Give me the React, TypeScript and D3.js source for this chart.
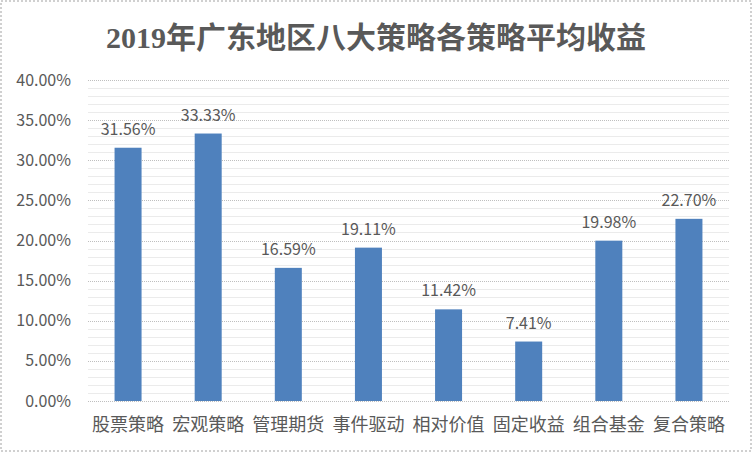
import React from "react";
import * as d3 from "d3";

const title = "2019年广东地区八大策略各策略平均收益";
const categories = ["股票策略", "宏观策略", "管理期货", "事件驱动", "相对价值", "固定收益", "组合基金", "复合策略"];
const values = [0.3156, 0.3333, 0.1659, 0.1911, 0.1142, 0.0741, 0.1998, 0.227];
const yTicks = [0, 0.05, 0.1, 0.15, 0.2, 0.25, 0.3, 0.35, 0.4];

const W = 752;
const H = 452;
const left = 88;
const right = 729;
const top = 80;
const bottom = 401;

export default function App() {
  const x = d3.scaleBand<string>().domain(categories).range([left, right]).paddingInner(0.663).paddingOuter(0.3315);
  const y = d3.scaleLinear().domain([0, 0.4]).range([bottom, top]);
  const minor = d3.range(0, 41).map((d) => d / 100).filter((d) => Math.round(d * 100) % 5 !== 0);
  const fmt = (v: number) => d3.format(".2%")(v);
  const sans = "'Noto Sans CJK SC', 'Open Sans', sans-serif";
  const textColor = "#595959";
  return (
    <svg width={W} height={H} style={{ position: "absolute", left: 0, top: 0 }}>
      <rect x={0} y={0} width={W} height={H} fill="#fff" />
      <rect x={1} y={1} width={W - 2} height={H - 2} fill="none" stroke="#d0d0d0" strokeWidth={2} strokeDasharray="2,2" />
      <text x={376} y={48} textAnchor="middle" fontFamily="'Liberation Serif', 'Noto Sans CJK SC', serif" fontWeight="bold" fontSize={30} fill={textColor}>
        {title}
      </text>
      {minor.map((t) => (
        <line key={"m" + t} x1={left} x2={right} y1={Math.round(y(t)) + 0.5} y2={Math.round(y(t)) + 0.5} stroke="#ebebeb" strokeWidth={1} />
      ))}
      {yTicks.map((t) => (
        <line key={"g" + t} x1={left} x2={right} y1={Math.round(y(t)) + 0.5} y2={Math.round(y(t)) + 0.5} stroke="#bfbfbf" strokeWidth={1} strokeDasharray="1,1" />
      ))}
      {yTicks.map((t) => (
        <text key={"t" + t} x={71} y={y(t) + 5.5} textAnchor="end" fontFamily={sans} fontSize={16} fill={textColor}>
          {fmt(t)}
        </text>
      ))}
      {categories.map((c, i) => (
        <g key={c}>
          <rect x={x(c)} y={y(values[i])} width={x.bandwidth()} height={bottom - y(values[i])} fill="#4f81bd" />
          <text x={(x(c) as number) + x.bandwidth() / 2} y={y(values[i]) - 13} textAnchor="middle" fontFamily={sans} fontSize={16} fill={textColor}>
            {fmt(values[i])}
          </text>
          <text x={(x(c) as number) + x.bandwidth() / 2} y={431} textAnchor="middle" fontFamily={sans} fontSize={18} fill={textColor}>
            {c}
          </text>
        </g>
      ))}
    </svg>
  );
}
